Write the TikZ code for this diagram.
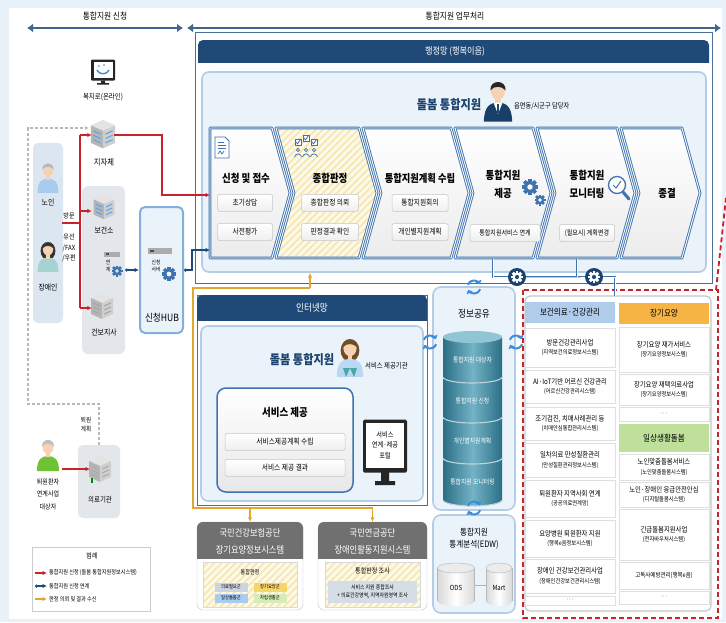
\documentclass[tikz,border=0pt]{standalone}
\usepackage{fontspec}
\setmainfont{Noto Sans CJK KR}[FakeStretch=0.86]
\usetikzlibrary{arrows.meta,patterns.meta,calc}

\definecolor{cNavy}{HTML}{1F4A78}
\definecolor{cNavyTxt}{HTML}{1C426E}
\definecolor{cChev}{HTML}{3F72AE}
\definecolor{cPanel}{HTML}{EAF2FA}
\definecolor{cPanelLine}{HTML}{B3CDE6}
\definecolor{cBg}{HTML}{E8F0F8}
\definecolor{cRed}{HTML}{C8232C}
\definecolor{cGold}{HTML}{E2A72E}
\definecolor{cHatchBg}{HTML}{FDF9E8}
\definecolor{cHatch}{HTML}{F5E6AE}
\definecolor{cCylA}{HTML}{2B6F86}
\definecolor{cCylB}{HTML}{74B3C6}
\definecolor{cCylTop}{HTML}{8FC5D5}
\definecolor{cSync}{HTML}{3B8EDB}
\definecolor{cHdrBlue}{HTML}{AFCCEA}
\definecolor{cHdrOrange}{HTML}{F6B444}
\definecolor{cHdrGreen}{HTML}{BEE09A}
\definecolor{cGrayHdr}{HTML}{707070}
\definecolor{cSkin}{HTML}{F6D2B5}
\definecolor{cHub}{HTML}{86AEDC}
\definecolor{cBoxGray}{HTML}{E3E7EC}
\definecolor{cPersonBox}{HTML}{DCE6F1}
\definecolor{cGrpA}{HTML}{CBD4E0}
\definecolor{cGrpB}{HTML}{F6D56A}
\definecolor{cGrpC}{HTML}{A9CDF0}
\definecolor{cGrpD}{HTML}{D6ECB9}

\newcommand\fsz[2]{\fontsize{#1}{#2}\selectfont}

% person: x, y (head centre), scale, shirt, hair, long hair (1/0)
\newcommand\personicon[6]{%
 \begin{scope}[shift={(#1,#2)},scale=#3]
  \ifnum#6=1 \fill[#5] (0,2) ellipse (7.8 and 9.5); \fi
  \fill[#4] (-11,24) .. controls (-11,12) and (-6,9) .. (0,9) .. controls (6,9) and (11,12) .. (11,24) -- cycle;
  \fill[cSkin] (-2,5) rectangle (2,10);
  \fill[cSkin] (0,0) ellipse (5.5 and 6.8);
  \fill[#5] (-5.9,-0.5) .. controls (-6.6,-9.2) and (6.6,-9.2) .. (5.9,-0.5) .. controls (3,-4) and (-3,-4.5) .. (-5.9,-0.5) -- cycle;
 \end{scope}}

% isometric building: x, y, scale, window colour
\newcommand\buildingicon[4]{%
 \begin{scope}[shift={(#1,#2)},scale=#3]
  \fill[gray!22] (-11,-7) -- (0,-12) -- (11,-7) -- (0,-2) -- cycle;
  \fill[gray!58] (-11,-7) -- (0,-2) -- (0,14) -- (-11,9) -- cycle;
  \fill[gray!38] (0,-2) -- (11,-7) -- (11,9) -- (0,14) -- cycle;
  \foreach \r in {1,5,9} {
   \draw[#4,line width=1.1pt] (2.2,\r) -- (8.8,\r-3);
   \draw[#4,line width=1.1pt] (-8.8,\r-3) -- (-2.2,\r);}
 \end{scope}}

% gear: x, y, radius, colour, hole colour
\newcommand\gearicon[5]{%
 \begin{scope}[shift={(#1,#2)}]
  \foreach \a in {0,45,...,315} {\fill[#4,rotate=\a] (-0.24*#3,0) rectangle (0.24*#3,#3);}
  \fill[#4] (0,0) circle (0.76*#3);
  \fill[#5] (0,0) circle (0.34*#3);
 \end{scope}}

% two-arrow refresh symbol
\newcommand\syncicon[2]{%
 \begin{scope}[shift={(#1,#2)}]
  \draw[cSync,line width=2pt,-{Triangle[length=3.5pt,width=6.5pt]}] (200:6.5) arc[start angle=200,end angle=335,radius=6.5];
  \draw[cSync,line width=2pt,-{Triangle[length=3.5pt,width=6.5pt]}] (20:6.5) arc[start angle=20,end angle=155,radius=6.5];
 \end{scope}}

% database cylinder: cx, top y, bottom y, half width
\newcommand\dbcyl[4]{%
 \shade[left color=cCylA,right color=cCylA,middle color=cCylB] (#1,#3) ellipse (#4 and 6);
 \shade[left color=cCylA,right color=cCylA,middle color=cCylB] (#1-#4,#2) rectangle (#1+#4,#3);
 \fill[cCylTop] (#1,#2) ellipse (#4 and 6);
 \begin{scope}
  \clip (#1-#4-1,#3) rectangle (#1+#4+1,#3+7);
  \draw[white!70!cCylA,line width=1.1pt] (#1,#3) ellipse (#4 and 6);
 \end{scope}}

\newcommand\graycyl[4]{%
 \shade[left color=gray!30,right color=gray!30,middle color=white] (#1,#3) ellipse (#4 and 5);
 \shade[left color=gray!30,right color=gray!30,middle color=white] (#1-#4,#2) rectangle (#1+#4,#3);
 \draw[gray!55,line width=.5pt] (#1-#4,#2) -- (#1-#4,#3) (#1+#4,#2) -- (#1+#4,#3);
 \fill[gray!15] (#1,#2) ellipse (#4 and 5);
 \draw[gray!55,line width=.5pt] (#1,#2) ellipse (#4 and 5);}

\begin{document}
\begin{tikzpicture}[x=1pt,y=-1pt,
 lbl/.style={inner sep=0pt,align=center},
 band/.style={draw=cNavy!85,line width=2.6pt,{Latex[length=6pt,width=9pt]}-{Latex[length=6pt,width=9pt]}},
 subbox/.style={draw=gray!45,line width=.5pt,top color=white,bottom color=gray!13,rounded corners=1.5pt,inner sep=0pt,minimum height=17pt,font=\fsz{7.8}{8}},
 chevshape/.style={draw=cChev,double=white,double distance=.9pt,line width=.9pt,line join=round},
 panelbox/.style={fill=cPanel,draw=cPanelLine,line width=1.6pt,rounded corners=7pt},
 redarr/.style={draw=cRed,line width=1.1pt,-{Latex[length=4.5pt,width=4.5pt]}},
 redseg/.style={draw=cRed,line width=1.1pt},
 navyarr/.style={draw=cNavy,line width=1.2pt,{Circle[length=3pt]}-{Latex[length=4.5pt,width=4.5pt]}},
 goldarr/.style={draw=cGold,line width=1.1pt,-{Latex[length=4.5pt,width=4.5pt]}},
 goldseg/.style={draw=cGold,line width=1.1pt},
 dashgray/.style={draw=gray!55,line width=1.1pt,dash pattern=on 3pt off 2pt},
 bluelink/.style={draw=cChev,double=white,double distance=.7pt,line width=.8pt},
 grp/.style={inner sep=0pt,minimum width=33pt,minimum height=9pt,font=\fsz{5}{6}},
 listitem/.style={draw=gray!25,fill=white,inner sep=0pt,align=center,minimum width=90pt,font=\fsz{7.4}{9.5}},
 subline/.style={},
 listhdr/.style={inner sep=0pt,minimum width=90pt,font=\fsz{8.8}{9}},
 anchorbox/.style={inner sep=0pt,minimum width=22pt,minimum height=22pt}]

\useasboundingbox (0,0) rectangle (726,622);
\fill[cBg] (0,0) rectangle (726,622);
\fill[white] (9,8) rectangle (722,619);

% ---------- section bands
\node[lbl,font=\fsz{9}{10}] (bandApply) at (105,16) {통합지원 신청};
\node[lbl,font=\fsz{9}{10}] (bandWork) at (455,16) {통합지원 업무처리};
\coordinate (bA1) at (27,28); \coordinate (bA2) at (183,28);
\coordinate (bW1) at (187,28); \coordinate (bW2) at (721,28);
\draw[band] (bA1) -- (bA2);
\draw[band] (bW1) -- (bW2);

% ---------- administrative network panel
\draw[cNavy!80,line width=.7pt,fill=white] (195,32) rectangle (712,283);
\begin{scope}
 \clip (198,40) rectangle (709,62);
 \fill[cNavy,rounded corners=5pt] (198,40) rectangle (709,75);
\end{scope}
\node[lbl,white,font=\fsz{9.5}{10}] (adminTitle) at (455,51) {행정망 (행복이음)};
\path[panelbox] (202,72) rectangle (706,272);
\node[lbl,cNavyTxt,font=\bfseries\fsz{13}{14}] (adminCare) at (449,105) {돌봄 통합지원};
\personicon{498}{91}{1.28}{cNavy!85!black}{black!85}{0}
\fill[white] (493.5,102.5) -- (502.5,102.5) -- (498,114) -- cycle;
\fill[cNavy] (497.3,104) rectangle (498.7,113);
\node[lbl,anchor=west,font=\fsz{7.2}{8}] (adminStaff) at (514,106) {읍면동/시군구 담당자};

% process chevrons
\path[chevshape,top color=white,bottom color=gray!15] (210,128) -- (272,128) -- (290,193) -- (272,258) -- (210,258) -- cycle;
\fill[cHatchBg] (276,128) -- (359,128) -- (377,193) -- (359,258) -- (276,258) -- (294,193) -- cycle;
\fill[pattern={Lines[angle=45,distance=5pt,line width=1.6pt]},pattern color=cHatch] (276,128) -- (359,128) -- (377,193) -- (359,258) -- (276,258) -- (294,193) -- cycle;
\draw[chevshape] (276,128) -- (359,128) -- (377,193) -- (359,258) -- (276,258) -- (294,193) -- cycle;
\path[chevshape,top color=white,bottom color=gray!15] (363,128) -- (451,128) -- (469,193) -- (451,258) -- (363,258) -- (381,193) -- cycle;
\path[chevshape,top color=white,bottom color=gray!15] (455,128) -- (533,128) -- (551,193) -- (533,258) -- (455,258) -- (473,193) -- cycle;
\path[chevshape,top color=white,bottom color=gray!15] (537,128) -- (617,128) -- (635,193) -- (617,258) -- (537,258) -- (555,193) -- cycle;
\path[chevshape,top color=white,bottom color=gray!15] (621,128) -- (682,128) -- (700,193) -- (682,258) -- (621,258) -- (639,193) -- cycle;

% step icons
\draw[cChev,line width=.8pt,fill=white] (215,137) -- (225,137) -- (229,141) -- (229,158) -- (215,158) -- cycle;
\draw[cChev,line width=.6pt] (218,142) -- (224,142) (218,145) -- (226,145) (218,148) -- (226,148);
\draw[cChev,line width=.7pt] (218,154) -- (220,151) -- (222,154) -- (224,151);
\foreach \cx/\cy in {298/142,306/138,314/142} {
 \draw[cChev,line width=.7pt,fill=white] (\cx-3,\cy-3) rectangle (\cx+3,\cy+3);
 \draw[cChev,line width=.8pt] (\cx-2,\cy) -- (\cx-0.5,\cy+1.8) -- (\cx+2.8,\cy-2.8);}
\foreach \cx in {298,306,314} {
 \draw[cChev,line width=.7pt] (\cx,150) circle (1.6);
 \draw[cChev,line width=.7pt] (\cx-3.5,157) .. controls (\cx-3,153) and (\cx+3,153) .. (\cx+3.5,157);}
\gearicon{530}{187}{8}{cChev}{white}
\gearicon{540}{200}{5.5}{cChev}{white}
\draw[cChev,line width=3pt,line cap=round] (623,192) -- (629,199);
\draw[cChev,line width=1.3pt,fill=white] (617,185) circle (8.5);
\draw[cChev,line width=1pt] (613,185) -- (616,188) -- (621,181);

% step titles and tasks
\node[lbl,font=\bfseries\fsz{11}{12}] (st1) at (246,178) {신청 및 접수};
\node[subbox,minimum width=55pt] (s11) at (245,203) {초기상담};
\node[subbox,minimum width=55pt] (s12) at (245,232) {사전평가};
\node[lbl,font=\bfseries\fsz{11}{12}] (st2) at (330,178) {종합판정};
\node[subbox,minimum width=57pt] (s21) at (330,203) {종합판정 의뢰};
\node[subbox,minimum width=57pt] (s22) at (330,232) {판정결과 확인};
\node[lbl,font=\bfseries\fsz{10.8}{12}] (st3) at (420,178) {통합지원계획 수립};
\node[subbox,minimum width=56pt] (s31) at (420,203) {통합지원회의};
\node[subbox,minimum width=56pt] (s32) at (420,232) {개인별지원계획};
\node[lbl,font=\bfseries\fsz{11}{18}] (st4) at (503,184) {통합지원\\제공};
\node[subbox,minimum width=70pt,font=\fsz{7}{8}] (s41) at (505,233) {통합지원서비스 연계};
\node[lbl,font=\bfseries\fsz{11}{18}] (st5) at (587,184) {통합지원\\모니터링};
\node[subbox,minimum width=55pt,font=\fsz{7}{8}] (s51) at (587,233) {(필요시) 계획변경};
\node[lbl,font=\bfseries\fsz{11}{12}] (st6) at (667,193) {종결};

\coordinate (c1in) at (210,195);
\coordinate (c1hub) at (210,250);
\coordinate (c2out) at (310,273);
\coordinate (c4bot) at (493,259);
\coordinate (c5bot) at (577,259);

% ---------- application side
\node[fill=cPersonBox,rounded corners=5pt,minimum width=30pt,minimum height=180pt,inner sep=0pt] (ppl) at (48,233) {};
\node[fill=cBoxGray,rounded corners=6pt,minimum width=43pt,minimum height=168pt,inner sep=0pt] (agency) at (103.5,270) {};
\node[draw=cHub,line width=2pt,fill=cPanel,rounded corners=5pt,minimum width=43pt,minimum height=126pt,inner sep=0pt] (hub) at (161.5,270) {};
\node[fill=cBoxGray,rounded corners=5pt,minimum width=42pt,minimum height=73pt,inner sep=0pt] (medic) at (99,481.5) {};

% welfare portal monitor
\node[fill=black!85,rounded corners=1pt,minimum width=24pt,minimum height=21pt,inner sep=0pt] (bokjiro) at (103,70) {};
\fill[white] (93.5,61.5) rectangle (112.5,77.5);
\draw[cSync,line width=1.4pt] (97,70) .. controls (99,75) and (107,75) .. (109,70);
\fill[cSync!70] (99,66) circle (1.2) (104,65) circle (1.2);
\fill[black!85] (101,80.5) rectangle (105,83) (97,83) rectangle (109,84.5);
\node[lbl,font=\fsz{7.5}{8}] (bokjiroLbl) at (103,97) {복지로(온라인)};

\node[anchorbox] (jj) at (103,135) {};
\buildingicon{103}{133}{1.1}{cSync!80}
\node[lbl,font=\fsz{8.5}{9}] (jjLbl) at (104,162) {지자체};

\personicon{48}{170}{0.95}{cSync!45}{gray!55}{0}
\node[lbl,font=\fsz{8}{8}] (elderLbl) at (48,202) {노인};
\personicon{48}{249}{0.95}{teal!35}{black!80}{1}
\node[lbl,font=\fsz{8}{8}] (disLbl) at (48,287) {장애인};
\node[lbl,font=\fsz{7}{8}] (visitLbl) at (69,216) {방문};
\node[lbl,font=\fsz{7}{10.5}] (remoteLbl) at (69,248) {유선\\/FAX\\/우편};

\node[anchorbox] (bgs) at (103,211) {};
\buildingicon{104}{206}{0.95}{cSync!80}
\node[lbl,font=\fsz{8}{8}] (bgsLbl) at (104,230) {보건소};
\node[inner sep=0pt,fill=gray!65,minimum width=16pt,minimum height=5pt] (agencySrv) at (112,254) {};
\fill[black!70] (106,253) rectangle (109,255);
\node[lbl,font=\fsz{5.5}{6.5}] (agencySrvLbl) at (108,266) {연\\계};
\gearicon{117}{271}{5.5}{cChev}{cBoxGray}
\node[anchorbox] (gbj) at (103,308) {};
\buildingicon{102}{305}{1.0}{gray!70}
\node[lbl,font=\fsz{8}{8}] (gbjLbl) at (104,332) {건보지사};

\node[inner sep=0pt,fill=gray!65,minimum width=24pt,minimum height=6pt] (hubSrv) at (160,251) {};
\fill[black!70] (150,250) rectangle (154,252);
\node[lbl,font=\fsz{5.5}{6.5}] (hubSrvLbl) at (156,266) {신청\\서버};
\gearicon{169}{274}{7}{cChev}{cPanel}
\node[lbl,font=\fsz{10}{11}] (hubLbl) at (162,318) {신청HUB};

\personicon{48}{447}{1.0}{green!45!lime!70!black!80}{gray!50}{0}
\node[lbl,font=\fsz{7}{12.5}] (patLbl) at (48,494) {퇴원환자\\연계사업\\대상자};
\buildingicon{100}{468}{1.0}{gray!65}
\fill[green!55!black] (91,478) rectangle (93,483);
\node[lbl,font=\fsz{7.5}{8}] (medLbl) at (100,500) {의료기관};
\node[lbl,font=\fsz{6.5}{9}] (dcLbl) at (86,425) {퇴원\\계획};

% application connectors
\coordinate (rTop) at (80,135);
\coordinate (rBend) at (162,135);
\coordinate (rDrop) at (162,195);
\coordinate (rVisit) at (62,223);
\coordinate (rVisitJ) at (80,223);
\coordinate (rBot) at (80,308);
\coordinate (rMid) at (80,211);
\draw[redarr] (jj.east) -- (rBend) -- (rDrop) -- (c1in);
\draw[redarr] (rTop) -- (jj.west);
\draw[redseg] (rTop) -- (rBot);
\draw[redseg] (rVisit) -- (rVisitJ);
\draw[redarr] (rMid) -- (bgs.west);
\draw[redarr] (rBot) -- (gbj.west);
\coordinate (patOut) at (62,469);
\coordinate (medIn) at (90,469);
\draw[redarr] (patOut) -- (medIn);

\coordinate (dMed) at (99,404);
\coordinate (dBot) at (28,404);
\coordinate (dTop) at (28,128);
\coordinate (dEnd) at (89,128);
\draw[dashgray,-{Latex[length=4pt,width=4pt]}] (medic.north) -- (dMed) -- (dBot) -- (dTop) -- (dEnd);

\draw[navyarr] (agency.east) -- (hub.west);
\coordinate (hubT1) at (192,270);
\coordinate (hubT2) at (192,250);
\draw[navyarr] (hub.east) -- (hubT1) -- (hubT2) -- (c1hub);

% legend
\node[draw=gray!40,fill=white,minimum width=118pt,minimum height=64pt,inner sep=0pt] (legend) at (91,579) {};
\node[lbl,font=\fsz{7}{7}] (legTitle) at (92,556) {범례};
\coordinate (l1a) at (35,573); \coordinate (l1b) at (47,573);
\coordinate (l2a) at (35,586); \coordinate (l2b) at (47,586);
\coordinate (l3a) at (35,599); \coordinate (l3b) at (47,599);
\draw[redarr] (l1a) -- (l1b);
\draw[navyarr] (l2a) -- (l2b);
\draw[goldarr] (l3a) -- (l3b);
\node[lbl,anchor=west,font=\fsz{6}{6}] (leg1) at (49,573) {통합지원 신청 (돌봄 통합지원정보시스템)};
\node[lbl,anchor=west,font=\fsz{6}{6}] (leg2) at (49,586) {통합지원 신청 연계};
\node[lbl,anchor=west,font=\fsz{6}{6}] (leg3) at (49,599) {판정 의뢰 및 결과 수신};

% ---------- internet network panel
\draw[cNavy!80,line width=.7pt,fill=white] (197,295) rectangle (427,505);
\begin{scope}
 \clip (197,295) rectangle (427,320);
 \fill[cNavy,rounded corners=5pt] (197,295) rectangle (427,330);
\end{scope}
\node[lbl,white,font=\fsz{10}{11}] (netTitle) at (312,308) {인터넷망};
\path[panelbox] (201,326) rectangle (423,501);
\node[lbl,cNavyTxt,font=\bfseries\fsz{13}{14}] (netCare) at (302,360) {돌봄 통합지원};
\personicon{350}{348}{1.2}{cSync!35}{brown!60!black}{1}
\fill[teal!70] (343,368) -- (350,368) -- (346,377) -- cycle;
\fill[teal!70] (350,368) -- (357,368) -- (354,377) -- cycle;
\node[lbl,anchor=west,font=\fsz{7.4}{8}] (netOrg) at (365,366) {서비스 제공기관};

\node[draw=cChev,line width=1.5pt,top color=white,bottom color=gray!18,rounded corners=9pt,minimum width=136pt,minimum height=104pt,inner sep=0pt] (svcBox) at (285,440) {};
\node[lbl,font=\bfseries\fsz{11}{12}] (svcTitle) at (285,412) {서비스 제공};
\node[subbox,minimum width=120pt] (svc1) at (285,442) {서비스제공계획 수립};
\node[subbox,minimum width=120pt] (svc2) at (285,468) {서비스 제공 결과};

\node[fill=black!85,rounded corners=1.5pt,minimum width=44pt,minimum height=53pt,inner sep=0pt] (portal) at (385,446) {};
\fill[white] (366,423) rectangle (404,468);
\node[lbl,font=\fsz{7.2}{10.5}] (portalLbl) at (385,445) {서비스\\연계·제공\\포털};
\fill[black!85] (381,472) rectangle (389,481) (375,481) rectangle (395,485);

% evaluation agencies
\node[fill=white,draw=gray!50,rounded corners=6pt,minimum width=106pt,minimum height=88pt,inner sep=0pt] (nhis) at (250,566) {};
\begin{scope}
 \clip (197,522) rectangle (303,558);
 \fill[cGrayHdr,rounded corners=6pt] (197,522) rectangle (303,570);
\end{scope}
\node[lbl,white,font=\fsz{9.6}{17}] (nhisName) at (250,541.5) {국민건강보험공단\\장기요양정보시스템};
\fill[cHatchBg] (203,562) rectangle (297,607);
\fill[pattern={Lines[angle=45,distance=5pt,line width=1.6pt]},pattern color=cHatch] (203,562) rectangle (297,607);
\draw[gray!30,line width=.5pt] (203,562) rectangle (297,607);
\node[lbl,font=\fsz{6}{7}] (nhisJudge) at (250,572) {통합판정};
\node[grp,fill=cGrpA] (grpA) at (231,587) {의료필요군};
\node[grp,fill=cGrpB] (grpB) at (270,587) {장기요양군};
\node[grp,fill=cGrpC] (grpC) at (231,598) {일상돌봄군};
\node[grp,fill=cGrpD] (grpD) at (270,598) {자립생활군};

\node[fill=white,draw=gray!50,rounded corners=6pt,minimum width=109pt,minimum height=88pt,inner sep=0pt] (nps) at (372.5,566) {};
\begin{scope}
 \clip (318,522) rectangle (427,558);
 \fill[cGrayHdr,rounded corners=6pt] (318,522) rectangle (427,570);
\end{scope}
\node[lbl,white,font=\fsz{9.6}{17}] (npsName) at (372.5,541.5) {국민연금공단\\장애인활동지원시스템};
\fill[cHatchBg] (325,562) rectangle (420,607);
\fill[pattern={Lines[angle=45,distance=5pt,line width=1.6pt]},pattern color=cHatch] (325,562) rectangle (420,607);
\draw[gray!30,line width=.5pt] (325,562) rectangle (420,607);
\node[lbl,font=\fsz{7}{7}] (npsJudge) at (372.5,571) {통합판정 조사};
\node[fill=cGrpA!80,inner sep=0pt,minimum width=89pt,minimum height=22pt,align=center,font=\fsz{5.7}{8}] (npsSurvey) at (372.5,592) {서비스 지원 종합조사\\+ 의료건강영역, 지역자원영역 조사};

% evaluation request lines
\coordinate (gCorner1) at (310,288);
\coordinate (gCorner2) at (193,288);
\coordinate (gCorner3) at (193,508);
\coordinate (gSplit) at (250,508);
\coordinate (gEnd) at (372.5,508);
\draw[goldseg] (gCorner1) -- (gCorner2) -- (gCorner3) -- (gEnd);
\draw[goldarr] (gCorner1) -- (c2out);
\draw[goldarr] (gSplit) -- (nhis.north);
\draw[goldarr] (gEnd) -- (nps.north);

% ---------- information sharing
\node[fill=cPanel,draw=cPanelLine,line width=1.6pt,rounded corners=8pt,minimum width=82pt,minimum height=223pt,inner sep=0pt] (share) at (474,398.5) {};
\node[lbl,font=\fsz{10}{11}] (shareTitle) at (474,314) {정보공유};
\dbcyl{472.5}{458}{500}{29.5}
\dbcyl{472.5}{417}{458}{29.5}
\dbcyl{472.5}{377}{417}{29.5}
\dbcyl{472.5}{337}{377}{29.5}
\node[lbl,white,font=\fsz{6.8}{7}] (db1) at (472.5,360) {통합지원 대상자};
\node[lbl,white,font=\fsz{6.8}{7}] (db2) at (472.5,401) {통합지원 신청};
\node[lbl,white,font=\fsz{6.8}{7}] (db3) at (472.5,441) {개인별지원계획};
\node[lbl,white,font=\fsz{6.8}{7}] (db4) at (472.5,482) {통합지원 모니터링};

\node[fill=cPanel,draw=cPanelLine,line width=1.6pt,rounded corners=8pt,minimum width=82pt,minimum height=98pt,inner sep=0pt] (edw) at (474,564) {};
\node[lbl,font=\fsz{8.8}{12}] (edwTitle) at (474,539) {통합지원\\통계분석(EDW)};
\draw[gray!60,line width=.7pt] (475,585) -- (486,585);
\graycyl{456}{568}{601}{18.5}
\graycyl{499}{568}{601}{13}
\node[lbl,font=\fsz{7}{7}] (odsLbl) at (456,588) {ODS};
\node[lbl,font=\fsz{7}{7}] (martLbl) at (499,588) {Mart};

\syncicon{474}{287}
\syncicon{430}{342}
\syncicon{516}{342}
\syncicon{474}{508}

% ---------- linked service systems
\draw[cRed,line width=1.8pt,dash pattern=on 5pt off 3pt] (523,290) rectangle (718,618);
\coordinate (rdTop) at (726,198);
\coordinate (rdCorner) at (716,290);
\draw[cRed,line width=1.8pt,dash pattern=on 5pt off 3pt] (rdCorner) -- (rdTop);
\node[fill=white,draw=gray!45,line width=1.2pt,rounded corners=5pt,minimum width=186pt,minimum height=315pt,inner sep=0pt] (svcPanel) at (618,453.5) {};

\node[listhdr,fill=cHdrBlue,minimum height=21pt] (hdrHealth) at (570,312.5) {보건의료·건강관리};
\node[listitem,minimum height=39pt] (h1) at (570,347.5) {방문건강관리사업\\{\fsz{6.1}{7}(지역보건의료정보시스템)}};
\node[listitem,minimum height=33pt] (h2) at (570,386.5) {AI·IoT기반 어르신 건강관리\\{\fsz{6.1}{7}(어르신건강관리시스템)}};
\node[listitem,minimum height=33pt] (h3) at (570,423.5) {조기검진, 치매사례관리 등\\{\fsz{6.1}{7}(치매안심통합관리시스템)}};
\node[listitem,minimum height=34pt] (h4) at (570,460) {일차의료 만성질환관리\\{\fsz{6.1}{7}(만성질환관리정보시스템)}};
\node[listitem,minimum height=37pt] (h5) at (570,498.5) {퇴원환자 지역사회 연계\\{\fsz{6.1}{7}(공공의료연계망)}};
\node[listitem,minimum height=37pt] (h6) at (570,538.5) {요양병원 퇴원환자 지원\\{\fsz{6.1}{7}(행복e음정보시스템)}};
\node[listitem,minimum height=34pt] (h7) at (570,576) {장애인 건강보건관리사업\\{\fsz{6.1}{7}(장애인건강보건관리시스템)}};
\node[listitem,minimum height=9pt,font=\fsz{5.5}{6}] (h8) at (570,600.5) {···};

\node[listhdr,fill=cHdrOrange,minimum height=21pt] (hdrLtc) at (664,313.5) {장기요양};
\node[listitem,minimum height=45pt] (l1) at (664,349.5) {장기요양 재가서비스\\{\fsz{6.1}{7}(장기요양정보시스템)}};
\node[listitem,minimum height=31pt] (l2) at (664,389.5) {장기요양 재택의료사업\\{\fsz{6.1}{7}(장기요양정보시스템)}};
\node[listitem,minimum height=14pt,font=\fsz{5.5}{6}] (l3) at (664,414) {···};
\node[listhdr,fill=cHdrGreen,minimum height=28pt] (hdrDaily) at (664,438) {일상생활돌봄};
\node[listitem,minimum height=26pt] (d1) at (664,467) {노인맞춤돌봄서비스\\{\fsz{6.1}{7}(노인맞춤돌봄시스템)}};
\node[listitem,minimum height=25pt] (d2) at (664,494.5) {노인·장애인 응급안전안심\\{\fsz{6.1}{7}(디지털돌봄시스템)}};
\node[listitem,minimum height=51pt] (d3) at (664,534.5) {긴급돌봄지원사업\\{\fsz{6.1}{7}(전자바우처시스템)}};
\node[listitem,minimum height=27pt,font=\fsz{6.4}{7}] (d4) at (664,575.5) {고독사예방관리(행복e음)};
\node[listitem,minimum height=13pt,font=\fsz{5.5}{6}] (d5) at (664,597.5) {···};

% service links from the provision and monitoring steps
\node[circle,fill=cNavy!90!black,minimum size=18pt,inner sep=0pt] (gearA) at (517,277) {};
\node[circle,fill=cNavy!90!black,minimum size=18pt,inner sep=0pt] (gearB) at (594,277) {};
\coordinate (j1) at (577,277);
\coordinate (j2) at (615,277);
\coordinate (pTop) at (615,296);
\draw[bluelink] (c4bot) |- (gearA.west);
\draw[bluelink] (gearA.east) -- (j1) -- (gearB.west);
\draw[bluelink] (c5bot) -- (j1);
\draw[bluelink] (gearB.east) -- (j2) -- (pTop);
\gearicon{517}{277}{6}{white}{cNavy!90!black}
\gearicon{594}{277}{6}{white}{cNavy!90!black}
\end{tikzpicture}
\end{document}
